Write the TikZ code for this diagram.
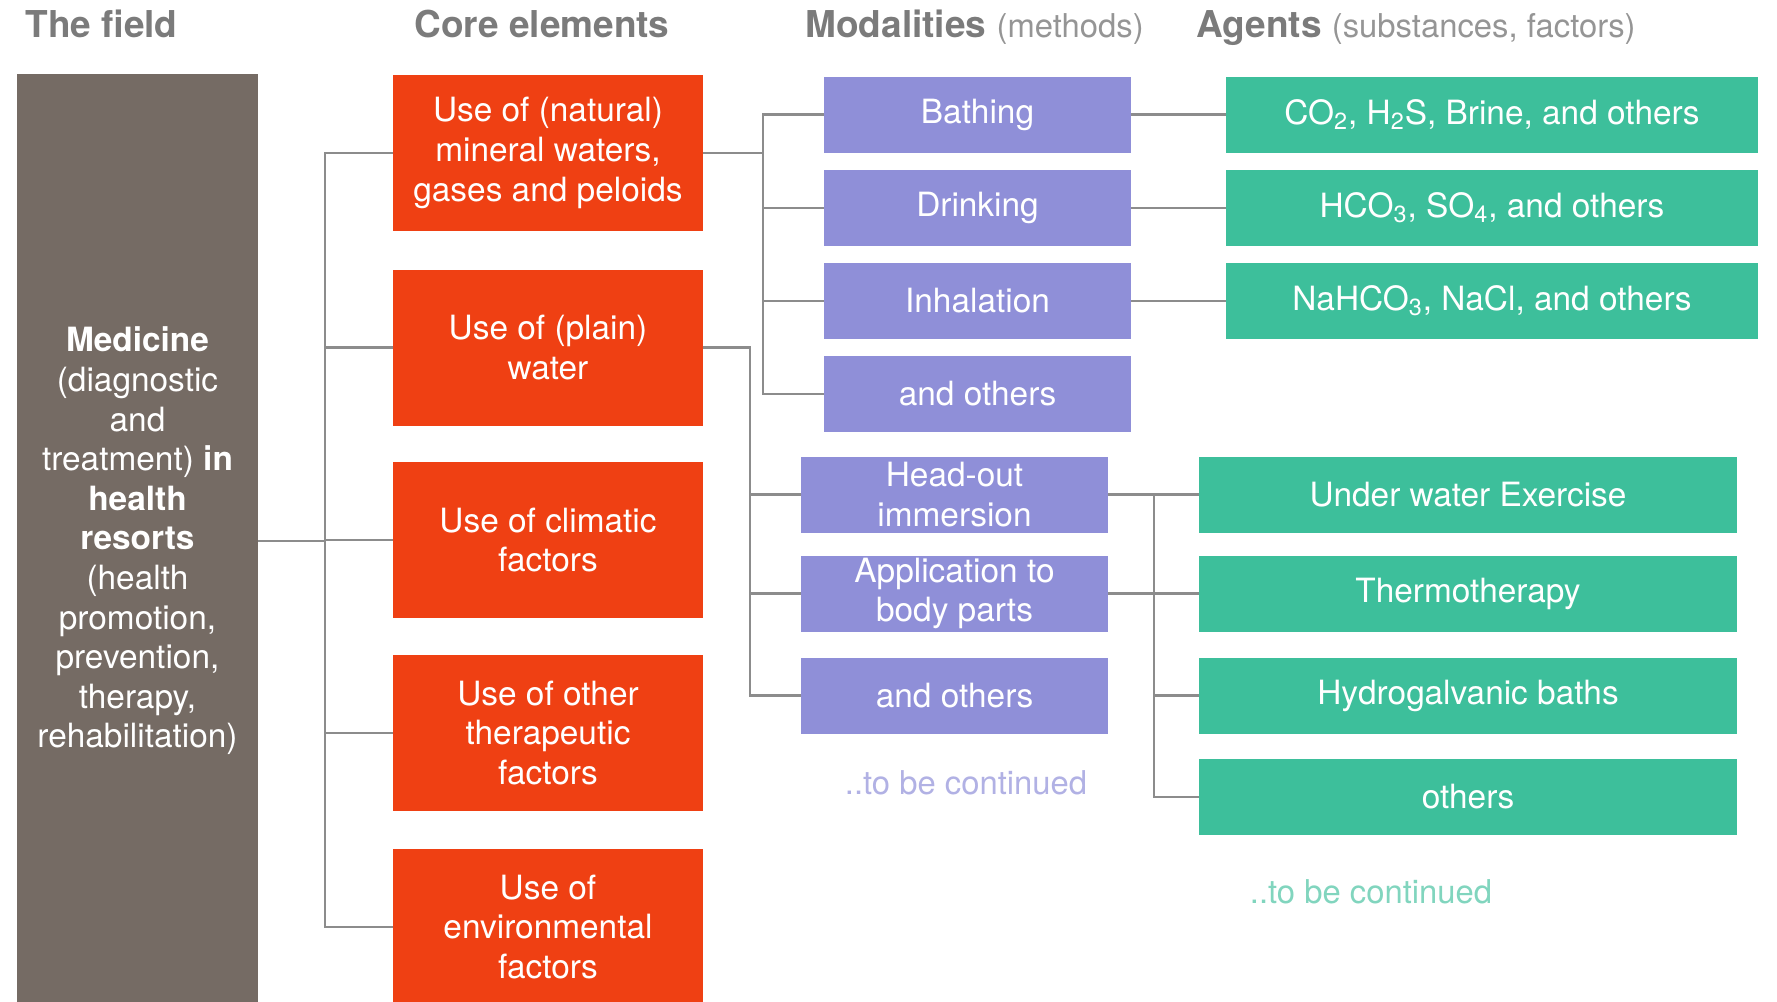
\documentclass[tikz,border=0pt]{standalone}
\usepackage{fontspec}
\setmainfont{TeX Gyre Heros}
\usetikzlibrary{positioning,calc}
\definecolor{fieldgray}{HTML}{756B64}
\definecolor{corered}{HTML}{EF4013}
\definecolor{modpurple}{HTML}{8F8FD8}
\definecolor{agentgreen}{HTML}{3DBF9B}
\definecolor{headgray}{HTML}{7B7B7B}
\definecolor{linegray}{HTML}{8C8C8C}

\begin{document}
\begin{tikzpicture}[
    x=0.5pt, y=-0.5pt,
    box/.style={rectangle, inner sep=0pt, align=center, text=white, font=\fontsize{16.7}{19.8}\selectfont},
    field/.style={box, fill=fieldgray, minimum width=120.5pt, minimum height=467pt},
    core/.style={box, fill=corered, minimum width=155pt, minimum height=78pt},
    method/.style={box, fill=modpurple, minimum width=153.5pt, minimum height=38pt},
    agent/.style={box, fill=agentgreen, minimum height=38pt},
    head/.style={anchor=base west, inner sep=0pt, text=headgray, font=\fontsize{18.5}{22}\selectfont\bfseries},
    headnote/.style={font=\mdseries\fontsize{16.4}{20}\selectfont, text=headgray!80},
    cont/.style={font=\fontsize{16.4}{20}\selectfont},
    link/.style={draw=linegray, line width=1.2pt}
]
\useasboundingbox (0,0) rectangle (1777,1001);

% column titles
\node[head] (hfield) at (25,37) {The field};
\node[head] (hcore) at (414,37) {Core elements};
\node[head] (hmod) at (805,37) {Modalities \tikz[baseline]\node[headnote,inner sep=0pt,anchor=base]{(methods)};};
\node[head] (hagent) at (1196,37) {Agents \tikz[baseline]\node[headnote,inner sep=0pt,anchor=base]{(substances, factors)};};

\node[field] (field) at (137.5,541) {\textbf{Medicine}\\(diagnostic\\and\\treatment) \textbf{in}\\\textbf{health}\\\textbf{resorts}\\(health\\promotion,\\prevention,\\therapy,\\rehabilitation)};

\node[core] (cmin) at (548,153) {Use of (natural)\\mineral waters,\\gases and peloids};
\node[core] (cwat) at (548,347.5) {Use of (plain)\\water};
\node[core] (cclim) at (548,540) {Use of climatic\\factors};
\node[core] (cther) at (548,733) {Use of other\\therapeutic\\factors};
\node[core] (cenv) at (548,927) {Use of\\environmental\\factors};

\node[method] (mbath) at (977.5,114.5) {Bathing};
\node[method] (mdrink) at (977.5,208) {Drinking};
\node[method] (minhal) at (977.5,301) {Inhalation};
\node[method] (mothers) at (977.5,394) {and others};

\node[method] (mhead) at (954.5,494.5) {Head-out\\immersion};
\node[method] (mappl) at (954.5,593.5) {Application to\\body parts};
\node[method] (mmore) at (954.5,695.5) {and others};
\node[cont, text=modpurple!70] (mcont) at (966,783) {..to be continued};

\node[agent, minimum width=266pt] (agas) at (1492,114.5) {CO\textsubscript{2}, H\textsubscript{2}S, Brine, and others};
\node[agent, minimum width=266pt] (aions) at (1492,208) {HCO\textsubscript{3}, SO\textsubscript{4}, and others};
\node[agent, minimum width=266pt] (asalt) at (1492,301) {NaHCO\textsubscript{3}, NaCl, and others};

\node[agent, minimum width=269pt] (aexer) at (1468,494.5) {Under water Exercise};
\node[agent, minimum width=269pt] (athermo) at (1468,593.5) {Thermotherapy};
\node[agent, minimum width=269pt] (ahydro) at (1468,695.5) {Hydrogalvanic baths};
\node[agent, minimum width=269pt] (aother) at (1468,797) {others};
\node[cont, text=agentgreen!65] (acont) at (1371,892) {..to be continued};

\coordinate (jfield) at (325,0);
\coordinate (jmin) at (763,0);
\coordinate (jwat) at (750,0);
\coordinate (jhead) at (1154,0);

\foreach \c in {cmin,cwat,cclim,cther,cenv}
    \draw[link] (field.east) -| (jfield |- \c.west) -- (\c.west);
\foreach \m in {mbath,mdrink,minhal,mothers}
    \draw[link] (cmin.east) -| (jmin |- \m.west) -- (\m.west);
\foreach \m in {mhead,mappl,mmore}
    \draw[link] (cwat.east) -| (jwat |- \m.west) -- (\m.west);

\draw[link] (mbath.east) -- (agas.west);
\draw[link] (mdrink.east) -- (aions.west);
\draw[link] (minhal.east) -- (asalt.west);

\foreach \a in {aexer,athermo,ahydro,aother}
    \draw[link] (mhead.east) -| (jhead |- \a.west) -- (\a.west);
\draw[link] (mappl.east) -- (mappl.east -| jhead);

\end{tikzpicture}
\end{document}
